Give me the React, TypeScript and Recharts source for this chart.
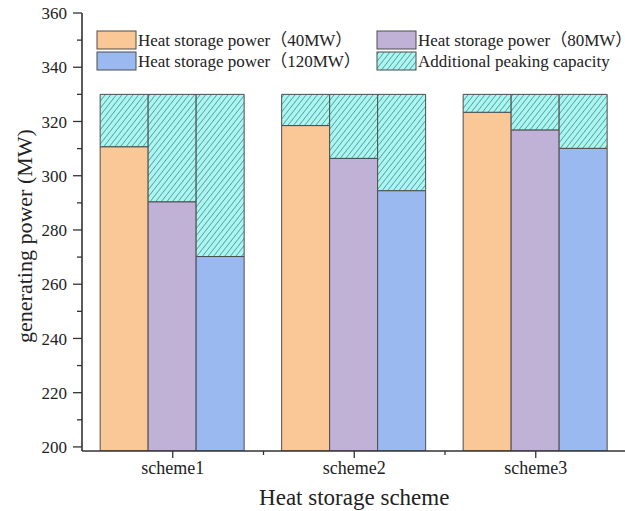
import { BarChart, Bar, XAxis, YAxis } from "recharts";

const categories = ["scheme1", "scheme2", "scheme3"];
const power40 = [310.7, 318.5, 323.4];
const power80 = [290.4, 306.4, 316.9];
const power120 = [270.2, 294.5, 310.1];
const peakTotal = [330, 330, 330];
const yTicks = [200, 210, 220, 230, 240, 250, 260, 270, 280, 290, 300, 310, 320, 330, 340, 350, 360];
const legendNames = [
  "Heat storage power（40MW）",
  "Heat storage power（80MW）",
  "Heat storage power（120MW）",
  "Additional peaking capacity",
];

const data = categories.map((name, i) => ({
  name,
  p40: power40[i],
  a40: peakTotal[i] - power40[i],
  p80: power80[i],
  a80: peakTotal[i] - power80[i],
  p120: power120[i],
  a120: peakTotal[i] - power120[i],
}));

const FONT = '"Liberation Serif", "Times New Roman", "Noto Sans CJK SC", serif';
const AX = "#333";
const EDGE = "#4d4d4d";
const ORANGE = "#f9c896";
const PURPLE = "#c0b1d6";
const BLUE = "#9bb9f1";
const CYAN = "#a9f7f3";
const BAND = 544.5 / 3;

function HatchDef({ id }: { id: string }) {
  return (
    <pattern id={id} width={4.4} height={8} patternUnits="userSpaceOnUse" patternTransform="rotate(38)">
      <rect width={4.4} height={8} fill={CYAN} />
      <line x1={0} y1={0} x2={0} y2={8} stroke="#3f6a6a" strokeWidth={1.1} />
    </pattern>
  );
}

function LeftTick({ x, y, payload }: any) {
  const major = payload.value % 20 === 0;
  return (
    <g>
      <line x1={x} y1={y} x2={x - (major ? 9 : 5)} y2={y} stroke={AX} strokeWidth={1.3} />
      {major && (
        <text x={x - 15} y={y} dy="0.36em" textAnchor="end" fontSize={17} fill="#222" fontFamily={FONT}>
          {payload.value}
        </text>
      )}
    </g>
  );
}

function RightTick({ x, y, payload }: any) {
  const major = payload.value % 20 === 0;
  return <line x1={x} y1={y} x2={x - (major ? 8 : 4)} y2={y} stroke={AX} strokeWidth={1.3} />;
}

function BottomTick({ x, y, payload, index }: any) {
  const half = payload.offset || BAND / 2;
  return (
    <g>
      <line x1={x} y1={y} x2={x} y2={y + 7} stroke={AX} strokeWidth={1.3} />
      {index < categories.length - 1 && (
        <line x1={x + half} y1={y} x2={x + half} y2={y + 4} stroke={AX} strokeWidth={1.3} />
      )}
      <text x={x} y={y + 23} textAnchor="middle" fontSize={18} fill="#222" fontFamily={FONT}>
        {payload.value}
      </text>
    </g>
  );
}

function TopTick({ x, y, payload, index }: any) {
  const half = payload.offset || BAND / 2;
  return (
    <g>
      <line x1={x} y1={y} x2={x} y2={y + 8} stroke={AX} strokeWidth={1.3} />
      {index < categories.length - 1 && (
        <line x1={x + half} y1={y} x2={x + half} y2={y + 4} stroke={AX} strokeWidth={1.3} />
      )}
    </g>
  );
}

function Legend() {
  const fills = [ORANGE, PURPLE, BLUE, "url(#hatchLegend)"];
  const spots = [
    { x: 97, y: 31 },
    { x: 377, y: 31 },
    { x: 97, y: 52 },
    { x: 377, y: 52 },
  ];
  return (
    <svg width={625} height={90} style={{ position: "absolute", left: 0, top: 0 }}>
      <defs>
        <HatchDef id="hatchLegend" />
      </defs>
      {legendNames.map((n, i) => (
        <g key={n}>
          <rect x={spots[i].x} y={spots[i].y} width={39} height={18} fill={fills[i]} stroke={EDGE} strokeWidth={1} />
          <text x={spots[i].x + 41} y={spots[i].y + 15} fontSize={17} fill="#222" fontFamily={FONT}>
            {n}
          </text>
        </g>
      ))}
    </svg>
  );
}

export default function App() {
  return (
    <div
      style={{
        position: "absolute",
        left: 0,
        top: 0,
        width: 625,
        height: 511,
        overflow: "hidden",
        background: "#fff",
        fontFamily: FONT,
      }}
    >
      <BarChart
        width={628}
        height={511}
        data={data}
        margin={{ top: 13, right: 1.5, bottom: 0, left: 0 }}
        barCategoryGap="10%"
        barGap={0}
      >
        <defs>
          <HatchDef id="hatch" />
        </defs>
        <XAxis
          dataKey="name"
          height={60}
          tickSize={0}
          tickMargin={0}
          tick={<BottomTick />}
          axisLine={{ stroke: AX, strokeWidth: 1.6 }}
          tickLine={false}
          label={{
            content: ({ viewBox }: any) => (
              <text
                x={viewBox.x + viewBox.width / 2}
                y={viewBox.y + 54}
                textAnchor="middle"
                fontSize={23}
                fill="#222"
                fontFamily={FONT}
              >
                Heat storage scheme
              </text>
            ),
          }}
        />
        <XAxis
          xAxisId="top"
          dataKey="name"
          orientation="top"
          height={0}
          tickSize={0}
          tickMargin={0}
          tick={<TopTick />}
          axisLine={{ stroke: AX, strokeWidth: 1.6 }}
          tickLine={false}
        />
        <YAxis
          type="number"
          domain={[198.5, 360]}
          ticks={yTicks}
          allowDataOverflow
          width={82}
          tickSize={0}
          tickMargin={0}
          tick={<LeftTick />}
          axisLine={{ stroke: AX, strokeWidth: 1.6 }}
          tickLine={false}
          interval={0}
          label={{
            content: ({ viewBox }: any) => {
              const cx = viewBox.x + 24;
              const cy = viewBox.y + viewBox.height / 2 + 4;
              return (
                <text
                  x={cx}
                  y={cy}
                  transform={`rotate(-90, ${cx}, ${cy})`}
                  textAnchor="middle"
                  dominantBaseline="central"
                  fontSize={22}
                  fill="#222"
                  fontFamily={FONT}
                >
                  generating power (MW)
                </text>
              );
            },
          }}
        />
        <YAxis
          yAxisId="right"
          orientation="right"
          type="number"
          domain={[198.5, 360]}
          ticks={yTicks}
          allowDataOverflow
          width={0}
          tickSize={0}
          tickMargin={0}
          tick={<RightTick />}
          axisLine={{ stroke: AX, strokeWidth: 1.6 }}
          tickLine={false}
          interval={0}
        />
        <Bar dataKey="p40" stackId="s40" fill={ORANGE} stroke={EDGE} strokeWidth={1} isAnimationActive={false} />
        <Bar dataKey="a40" stackId="s40" fill="url(#hatch)" stroke={EDGE} strokeWidth={1} isAnimationActive={false} />
        <Bar dataKey="p80" stackId="s80" fill={PURPLE} stroke={EDGE} strokeWidth={1} isAnimationActive={false} />
        <Bar dataKey="a80" stackId="s80" fill="url(#hatch)" stroke={EDGE} strokeWidth={1} isAnimationActive={false} />
        <Bar dataKey="p120" stackId="s120" fill={BLUE} stroke={EDGE} strokeWidth={1} isAnimationActive={false} />
        <Bar dataKey="a120" stackId="s120" fill="url(#hatch)" stroke={EDGE} strokeWidth={1} isAnimationActive={false} />
      </BarChart>
      <Legend />
    </div>
  );
}
